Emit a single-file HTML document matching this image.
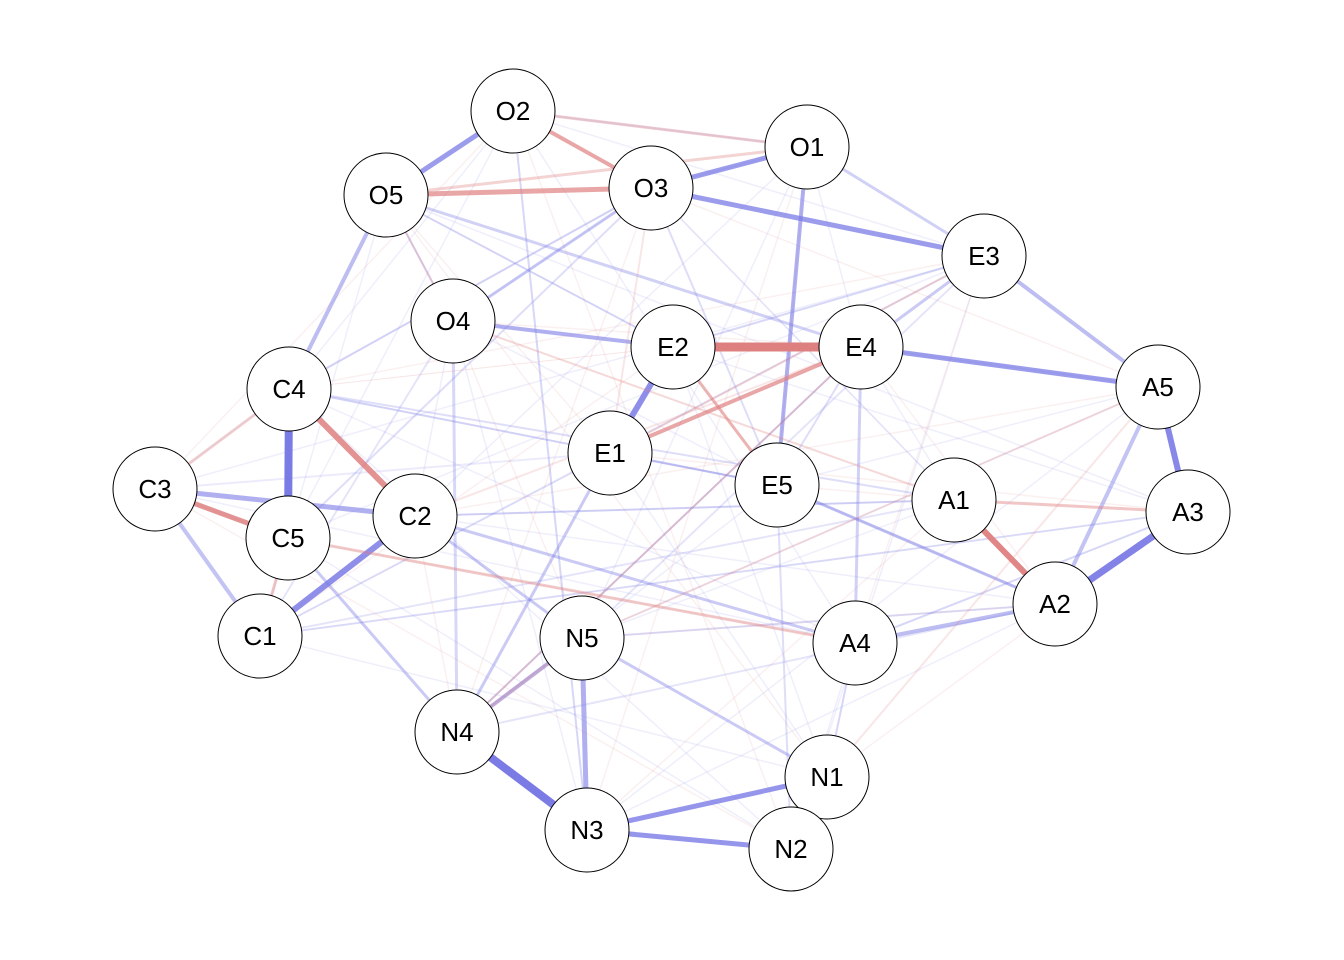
<!DOCTYPE html>
<html><head><meta charset="utf-8"><style>html,body{margin:0;background:#fff}svg{display:block}</style></head>
<body>
<svg id="s" width="1344" height="960" xmlns="http://www.w3.org/2000/svg"></svg>
<script>
var N={O2:[513,111],O1:[807,147],O5:[386,195],O3:[651,188],E3:[984,256],O4:[453,321],E2:[673,347],E4:[861,347],C4:[289,389],A5:[1158,387],E1:[610,453],E5:[777,485],C3:[155,489],A1:[954,500],A3:[1188,512],C2:[415,516],C5:[288,538],A2:[1055,604],C1:[260,636],N5:[582,638],A4:[855,643],N4:[457,732],N1:[827,777],N3:[587,830],N2:[791,849]};
var B='#7b7be6',R='#df8080';
// [a,b,color,width,opacity]
var E=[
['O2','O5',B,5,.75],['O3','O1',B,5,.75],['O3','E3',B,5,.75],['E4','A5',B,5,.75],['A5','A3',B,6,.9],['A3','A2',B,7,.95],
['C4','C5',B,8,1],['C2','C1',B,6,.85],['N4','N3',B,8,1],['N3','N1',B,5,.8],['N3','N2',B,5,.8],['E2','E1',B,6,.85],
['O1','E5',B,4,.6],['E3','A5',B,4,.5],['O4','E2',B,4,.6],['C3','C2',B,5,.6],['C3','C1',B,4,.45],['C4','O5',B,4,.5],
['N5','N3',B,5,.6],['N5','N4',B,4,.5],['A2','A4',B,4,.5],['E4','A4',B,3,.35],['E5','A2',B,3,.5],['C2','N5',B,3,.4],
['A5','A2',B,4,.45],['E3','E4',B,3,.4],['E1','N4',B,3,.4],['C5','N4',B,3,.4],['N5','N1',B,3,.4],['O4','N4',B,3,.3],
['O2','O1',B,2,.2],['O2','N3',B,2,.3],['O3','O4',B,3,.4],['O3','C4',B,2,.35],['O5','E4',B,3,.35],['C2','A4',B,3,.4],
['C4','E5',B,2,.35],['C2','A1',B,2,.3],['A4','A3',B,2,.3],['E3','E2',B,2,.3],['O1','E3',B,3,.35],['E1','E5',B,2,.3],
['N1','N2',B,3,.4],['A4','N1',B,2,.3],['N5','A2',B,2,.25],['E4','E5',B,2,.25],['E5','N2',B,2,.25],['C1','E3',B,2,.2],
['O5','E2',B,2,.25],['C1','A3',B,2,.2],['N4','A2',B,2,.2],['C5','O3',B,2,.25],['E4','N4',B,2,.25],['C4','A1',B,2,.25],
['O3','E5',B,2,.25],['O5','O4',B,2,.3],['E3','N5',B,2,.2],['C1','A1',B,2,.2],['O4','C1',B,2,.2],['C3','E1',B,2,.15],
['E2','E4',R,9,1],['A1','A2',R,6,.95],['C4','C2',R,6,.85],['C3','C5',R,5,.85],['O2','O3',R,4,.7],['O5','O3',R,5,.7],
['E4','E1',R,4,.7],['E2','E5',R,3,.6],['O2','O1',R,3,.35],['A1','A3',R,3,.45],['C5','A4',R,3,.4],['C4','C3',R,3,.35],
['C5','C1',R,3,.45],['O5','O1',R,3,.35],['E3','E1',R,2,.3],['O4','A1',R,2,.3],['N4','E4',R,2,.3],['N5','A5',R,2,.25],
['O3','E1',R,2,.2],['N1','A5',R,2,.2],['O5','O4',R,2,.25],['C4','E2',R,1,.2],['N4','N5',R,3,.3],['C2','E4',R,2,.2]
];
var ids=Object.keys(N),s='';
// faint web
for(var i=0;i<ids.length;i++)for(var j=i+1;j<ids.length;j++){var a=N[ids[i]],b=N[ids[j]];if((i*7+j*3)%4==0)s+='<line x1="'+a[0]+'" y1="'+a[1]+'" x2="'+b[0]+'" y2="'+b[1]+'" stroke="'+((i+j)%3?B:R)+'" stroke-width="1.5" stroke-opacity="0.12"/>';}
E.forEach(function(e){var a=N[e[0]],b=N[e[1]];s+='<line x1="'+a[0]+'" y1="'+a[1]+'" x2="'+b[0]+'" y2="'+b[1]+'" stroke="'+e[2]+'" stroke-width="'+e[3]+'" stroke-opacity="'+e[4]+'"/>';});
ids.forEach(function(k){var p=N[k];s+='<circle cx="'+p[0]+'" cy="'+p[1]+'" r="42" fill="#fff" stroke="#000" stroke-width="1"/><text x="'+p[0]+'" y="'+(p[1]+9)+'" font-family="Liberation Sans, Arial, sans-serif" font-size="26" text-anchor="middle">'+k+'</text>';});
document.getElementById('s').innerHTML=s;
</script>
</body></html>
